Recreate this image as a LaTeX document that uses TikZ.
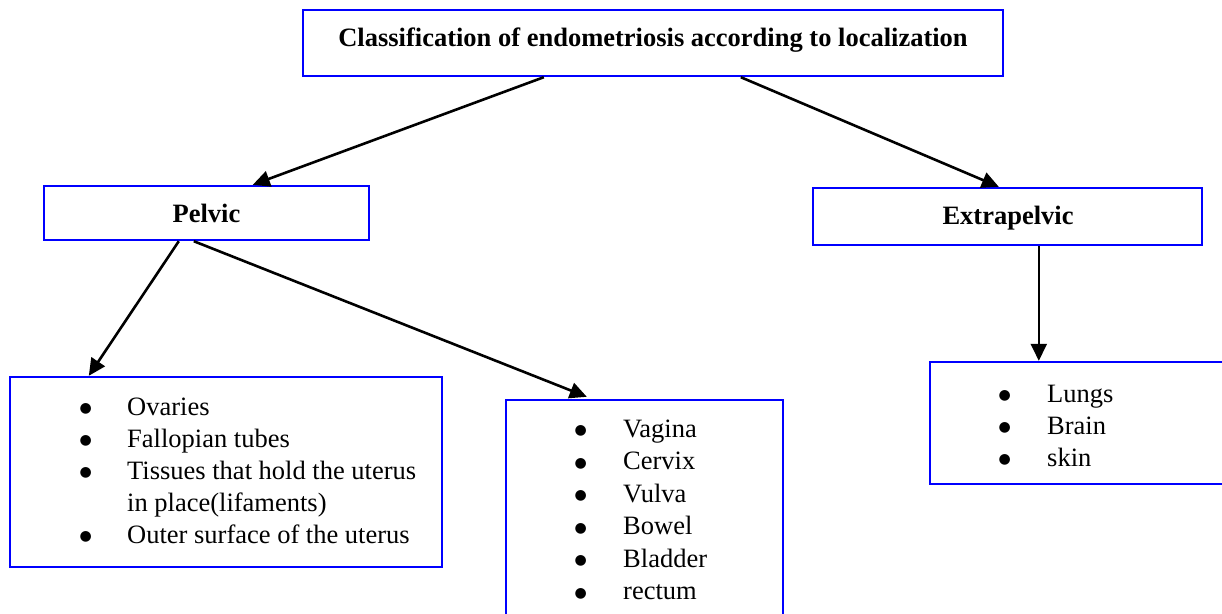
\documentclass[tikz,border=0pt]{standalone}
\usepackage{fontspec}
\setmainfont{Liberation Serif}
\newfontfamily\dejavu{DejaVu Sans}
\usetikzlibrary{arrows.meta,calc}
\newcommand{\bul}{\raisebox{2.5pt}{\dejavu\fontsize{14}{32}\selectfont ●}}
\begin{document}
\begin{tikzpicture}[x=1pt,y=-1pt,
  box/.style={draw=blue,line width=2.4pt,rectangle,inner sep=0pt},
  conn/.style={line width=2.6pt,-{Triangle[length=17pt,width=16pt]}},
  lbl/.style={inner sep=0pt,font=\fontsize{26.5}{32}\selectfont},
  lst/.style={inner sep=0pt,anchor=base west,font=\fontsize{26.5}{32}\selectfont}]
\useasboundingbox (0,0) rectangle (1222,613);
% boxes
\node[box,minimum width=700pt,minimum height=66pt] (title) at (653,43) {};
\node[box,minimum width=325pt,minimum height=54pt] (pelvic) at (206.5,213) {};
\node[box,minimum width=389pt,minimum height=57pt] (extra) at (1007.5,216.5) {};
\node[box,minimum width=432pt,minimum height=190pt] (left) at (226,472) {};
\node[box,minimum width=277pt,minimum height=240pt] (mid) at (644.5,520) {};
\node[box,minimum width=312pt,minimum height=122pt] (right) at (1086,423) {};
% texts
\node[lbl,anchor=base] (ttitle) at (653,46) {\bfseries Classification of endometriosis according to localization};
\node[lbl,anchor=base] (tpelvic) at (206.5,222) {\bfseries Pelvic};
\node[lbl,anchor=base] (textra) at (1008,224) {\bfseries Extrapelvic};
\node[lst] (lleft) at (79.5,415) {\begin{tabular}[t]{@{}p{47.5pt}@{}l@{}}
\bul & Ovaries\\
\bul & Fallopian tubes\\
\bul & Tissues that hold the uterus\\
     & in place(lifaments)\\
\bul & Outer surface of the uterus
\end{tabular}};
\node[lst] (lmid) at (574.5,437) {\def\arraystretch{1.016}\begin{tabular}[t]{@{}p{48.5pt}@{}l@{}}
\bul & Vagina\\
\bul & Cervix\\
\bul & Vulva\\
\bul & Bowel\\
\bul & Bladder\\
\bul & rectum
\end{tabular}};
\node[lst] (lright) at (998.5,402) {\begin{tabular}[t]{@{}p{48.5pt}@{}l@{}}
\bul & Lungs\\
\bul & Brain\\
\bul & skin
\end{tabular}};
% connectors
\draw[conn] ($(title.south west)+(242,0)$) -- ($(pelvic.north west)+(210,0)$);
\draw[conn] ($(title.south west)+(439,0)$) -- ($(extra.north west)+(187,0)$);
\draw[conn] ($(pelvic.south west)+(136,0)$) -- ($(left.north west)+(80,0)$);
\draw[conn] ($(pelvic.south west)+(151,0)$) -- ($(mid.north west)+(82,-2)$);
\draw[conn] ($(extra.south west)+(227,0)$) -- ($(right.north west)+(110,0)$);
\end{tikzpicture}
\end{document}
